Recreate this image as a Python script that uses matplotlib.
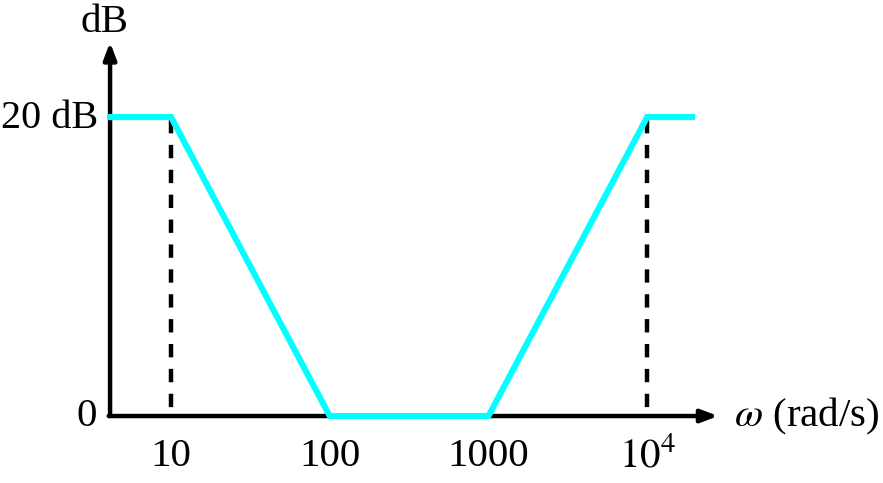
import matplotlib
matplotlib.use("Agg")
import matplotlib.pyplot as plt
import numpy as np

# Bode magnitude (asymptotic) data
freq = [4.13, 10, 100, 1000, 1e4, 1.92e4]
mag_db = [20, 20, 0, 0, 20, 20]
corner_freqs = [10, 1e4]
tick_pos = [10, 100, 1000, 1e4]
tick_labels = ["10", "100", "1000", r"$10^4$"]

plt.rcParams["font.family"] = ["Liberation Serif", "DejaVu Serif"]
plt.rcParams["mathtext.fontset"] = "stix"

fig = plt.figure(figsize=(8.83, 4.83), dpi=100)
ax = fig.add_axes([0, 0, 1, 1])
ax.set_xscale("log")
ax.set_xlim(10 ** -0.0775, 10 ** 5.486)
ax.set_ylim(-4.48, 27.83)
ax.axis("off")

# axes with arrows
x0, xend = 4.05, 10 ** 4.447
arrow = dict(arrowstyle="-|>,head_length=1.0,head_width=0.38",
             lw=3.2, color="k", shrinkA=0, shrinkB=0)
ax.annotate("", xy=(xend, 0), xytext=(x0, 0), arrowprops=arrow)
ax.annotate("", xy=(4.13, 25.0), xytext=(4.13, 0), arrowprops=arrow)

# dashed guides at corner frequencies
for f in corner_freqs:
    ax.plot([f, f], [19.8, 0], color="k", lw=3.2, ls=(0, (3.0, 2.6)), zorder=2)

ax.plot(freq, mag_db, color="#00FFFF", lw=4.4, solid_joinstyle="miter", zorder=3)

# labels
fs = 29.5
for p, lab in zip(tick_pos, tick_labels):
    ax.text(p, -2.7, lab, ha="center", va="center", fontsize=fs)
ax.text(3.5, 19.9, "20 dB", ha="right", va="center", fontsize=29)
ax.text(3.4, 0, "0", ha="right", va="center", fontsize=fs)
ax.text(10 ** 0.58, 26.3, "dB", ha="center", va="center", fontsize=fs)
ax.text(10 ** 4.55, 0, r"$\omega$ (rad/s)", ha="left", va="center", fontsize=fs)

fig.savefig("out.png", dpi=100)
